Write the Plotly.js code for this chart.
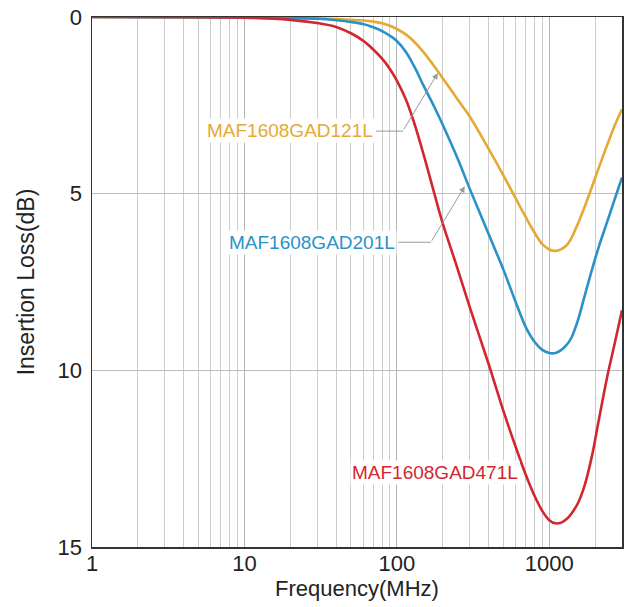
<!DOCTYPE html>
<html>
<head>
<meta charset="utf-8">
<script src="https://cdn.plot.ly/plotly-3.0.1.min.js"></script>
<style>html,body{margin:0;padding:0;background:#fff}#chart{width:638px;height:607px}</style>
</head>
<body>
<div id="chart"></div>
<script>
// Frequency (MHz)
var freq = [1, 10, 20, 30, 40, 50, 60, 70, 80, 90, 100, 115, 130, 150, 175, 200, 250, 300, 400, 500, 600, 700, 800, 900, 1000, 1100, 1200, 1300, 1400, 1550, 1700, 1900, 2100, 2400, 2700, 3000];
// Insertion loss (dB)
var loss121 = [0, 0.01, 0.02, 0.04, 0.06, 0.08, 0.1, 0.13, 0.18, 0.25, 0.34, 0.5, 0.7, 1.0, 1.38, 1.73, 2.33, 2.81, 3.73, 4.48, 5.12, 5.66, 6.1, 6.43, 6.58, 6.62, 6.57, 6.46, 6.25, 5.82, 5.39, 4.82, 4.3, 3.62, 3.05, 2.61];
var loss201 = [0, 0.01, 0.03, 0.05, 0.09, 0.14, 0.2, 0.29, 0.4, 0.53, 0.68, 1.0, 1.4, 1.95, 2.52, 3.05, 4.0, 4.85, 6.14, 7.15, 8.05, 8.77, 9.19, 9.42, 9.51, 9.51, 9.42, 9.28, 9.07, 8.55, 7.92, 7.17, 6.54, 5.79, 5.13, 4.54];
var loss471 = [0, 0.02, 0.08, 0.17, 0.28, 0.46, 0.67, 0.92, 1.18, 1.47, 1.8, 2.35, 3.0, 3.9, 4.95, 5.84, 7.12, 8.2, 9.82, 11.15, 12.15, 12.95, 13.55, 13.98, 14.24, 14.33, 14.31, 14.21, 14.05, 13.74, 13.28, 12.45, 11.47, 10.18, 9.2, 8.3];
var names = ["MAF1608GAD121L", "MAF1608GAD201L", "MAF1608GAD471L"];
var colors = ["#E5A935", "#2A92C8", "#D2272E"];
var yTicks = [0, 5, 10, 15];
var xTickVals = [1, 10, 100, 1000];
var xTickText = ["1", "10", "100", "1000"];

var series = [loss121, loss201, loss471];
var traces = series.map(function (s, i) {
  return {
    x: freq, y: s, type: "scatter", mode: "lines", name: names[i],
    line: {color: colors[i], width: 2.6, shape: "spline", smoothing: 1},
    hoverinfo: "skip"
  };
});

var FONT = "Liberation Sans, Arial, Helvetica, sans-serif";
var layout = {
  width: 638, height: 607,
  margin: {l: 92, r: 16, t: 17, b: 60},
  paper_bgcolor: "#fff", plot_bgcolor: "#fff",
  showlegend: false,
  font: {family: FONT, color: "#222"},
  xaxis: {
    type: "log", range: [0, Math.log10(3000)],
    tickvals: xTickVals, ticktext: xTickText,
    ticks: "", showgrid: true, gridcolor: "#b4b4b4", gridwidth: 1,
    minor: {dtick: "D1", showgrid: true, gridcolor: "#cdcdcd", gridwidth: 1, ticks: ""},
    showline: true, linecolor: "#333", linewidth: 1.5, mirror: true,
    zeroline: false, tickfont: {size: 22, family: FONT, color: "#222"},
    ticklabelstandoff: -4,
    title: {text: "Frequency(MHz)", font: {size: 22, family: FONT, color: "#222"}, standoff: 4}
  },
  yaxis: {
    range: [15, 0], tickvals: yTicks, ticks: "",
    showgrid: true, gridcolor: "#bdbdbd", gridwidth: 1,
    showline: true, linecolor: "#333", linewidth: 1.5, mirror: true,
    zeroline: false, tickfont: {size: 22, family: FONT, color: "#222"},
    ticklabelstandoff: 4,
    title: {text: "Insertion Loss(dB)", font: {size: 23, family: FONT, color: "#222"}, standoff: 16}
  },
  annotations: [
    {xref: "paper", yref: "paper", x: 0.534, y: 0.7866, xanchor: "right", yanchor: "middle",
     text: names[0], showarrow: false, bgcolor: "#fff", borderpad: 1,
     font: {size: 19, family: FONT, color: colors[0]}},
    {xref: "paper", yref: "paper", x: 0.5755, y: 0.575, xanchor: "right", yanchor: "middle",
     text: names[1], showarrow: false, bgcolor: "#fff", borderpad: 1,
     font: {size: 19, family: FONT, color: colors[1]}},
    {xref: "paper", yref: "paper", x: 0.8075, y: 0.1407, xanchor: "right", yanchor: "middle",
     text: names[2], showarrow: false, bgcolor: "#fff", borderpad: 1,
     font: {size: 19, family: FONT, color: colors[2]}},
    {xref: "x", yref: "y", x: 2.2686, y: 1.586, text: "", showarrow: true,
     ax: -35, ay: 58, arrowhead: 2, arrowsize: 1.2, arrowwidth: 1, arrowcolor: "#9a9a9a", standoff: 0},
    {xref: "x", yref: "y", x: 2.446, y: 4.79, text: "", showarrow: true,
     ax: -34, ay: 56, arrowhead: 2, arrowsize: 1.2, arrowwidth: 1, arrowcolor: "#9a9a9a", standoff: 0}
  ],
  shapes: [
    {type: "line", xref: "paper", yref: "paper", x0: 0.536, x1: 0.587, y0: 0.7847, y1: 0.7847,
     line: {color: "#9a9a9a", width: 1}},
    {type: "line", xref: "paper", yref: "paper", x0: 0.5774, x1: 0.6396, y0: 0.575, y1: 0.575,
     line: {color: "#9a9a9a", width: 1}}
  ]
};

Plotly.newPlot("chart", traces, layout, {staticPlot: true, displayModeBar: false});
</script>
</body>
</html>
